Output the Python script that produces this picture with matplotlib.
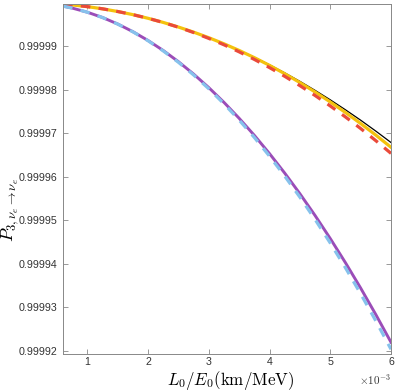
"""Survival probability P_3(nu_e -> nu_e) versus L0/E0, redrawn from the figure."""
import matplotlib
matplotlib.use("Agg")
import matplotlib.pyplot as plt
from matplotlib.ticker import MultipleLocator, FormatStrFormatter

plt.rcParams["mathtext.fontset"] = "cm"
plt.rcParams["font.family"] = ["Liberation Sans", "DejaVu Sans"]

# L0/E0 in units of 1e-3 km/MeV
l_over_e = [0.6, 0.75, 1.0, 1.25, 1.5, 1.75, 2.0, 2.25, 2.5, 2.75, 3.0, 3.25,
            3.5, 3.75, 4.0, 4.25, 4.5, 4.75, 5.0, 5.25, 5.5, 5.75, 6.0]

# upper family
p_black = [0.99999968, 0.99999950, 0.99999911, 0.99999861, 0.99999799, 0.99999727,
           0.99999643, 0.99999548, 0.99999442, 0.99999325, 0.99999197, 0.99999058,
           0.99998907, 0.99998746, 0.99998573, 0.99998389, 0.99998194, 0.99997987,
           0.99997770, 0.99997541, 0.99997302, 0.99997051, 0.99996789]
p_yellow = [0.99999968, 0.99999950, 0.99999911, 0.99999861, 0.99999799, 0.99999727,
            0.99999643, 0.99999548, 0.99999442, 0.99999325, 0.99999197, 0.99999057,
            0.99998904, 0.99998739, 0.99998561, 0.99998370, 0.99998166, 0.99997950,
            0.99997721, 0.99997479, 0.99997226, 0.99996959, 0.99996679]
p_red = [0.99999968, 0.99999950, 0.99999911, 0.99999861, 0.99999799, 0.99999727,
         0.99999643, 0.99999547, 0.99999438, 0.99999316, 0.99999181, 0.99999034,
         0.99998872, 0.99998698, 0.99998510, 0.99998310, 0.99998096, 0.99997869,
         0.99997629, 0.99997376, 0.99997111, 0.99996831, 0.99996539]

# lower family
p_purple = [0.99999922, 0.99999878, 0.99999783, 0.99999661, 0.99999512, 0.99999336,
            0.99999133, 0.99998903, 0.99998646, 0.99998361, 0.99998050, 0.99997711,
            0.99997345, 0.99996953, 0.99996533, 0.99996086, 0.99995612, 0.99995111,
            0.99994582, 0.99994027, 0.99993445, 0.99992835, 0.99992199]
p_blue = [0.99999922, 0.99999878, 0.99999783, 0.99999661, 0.99999510, 0.99999332,
          0.99999127, 0.99998893, 0.99998632, 0.99998341, 0.99998024, 0.99997679,
          0.99997305, 0.99996905, 0.99996475, 0.99996018, 0.99995534, 0.99995021,
          0.99994480, 0.99993911, 0.99993315, 0.99992691, 0.99992039]

fig = plt.figure(figsize=(3.99, 3.91), dpi=100)
ax = fig.add_axes([0.158, 0.0946, 0.822, 0.895])

ax.plot(l_over_e, p_black, color="black", lw=0.9)
ax.plot(l_over_e, p_yellow, color="#F4C20D", lw=2.3)
ax.plot(l_over_e, p_red, color="#EA4A3A", lw=2.3, dashes=(3, 2.6))
ax.plot(l_over_e, p_purple, color="#9B4DB8", lw=2.1)
ax.plot(l_over_e, p_blue, color="#86C2EC", lw=2.3, dashes=(3, 2.6))

ax.set_xlim(0.6, 6.0)
ax.set_ylim(0.9999193, 0.9999997)
ax.xaxis.set_major_locator(MultipleLocator(1))
ax.yaxis.set_major_locator(MultipleLocator(1e-5))
ax.yaxis.set_major_formatter(FormatStrFormatter("%.5f"))
ax.tick_params(direction="in", length=3.5, width=0.6, colors="#888888",
               labelcolor="#333333", labelsize=7.7, top=True, right=True)
ax.tick_params(axis="y", pad=4)
ax.tick_params(axis="x", pad=2.5)
for sp in ax.spines.values():
    sp.set_color("#888888")
    sp.set_linewidth(0.7)

ax.set_xlabel(r"$L_0/E_0(\mathrm{km/MeV})$", fontsize=12.2)
ax.xaxis.set_label_coords(0.51, -0.043)
ax.set_ylabel(r"$P_{3,\nu_e\to\nu_e}$", fontsize=13)
ax.yaxis.set_label_coords(-0.128, 0.41)
ax.text(1.0, -0.052, r"$\times\mathsf{10^{-3}}$", transform=ax.transAxes,
        ha="right", va="top", fontsize=8, color="#333333")

fig.savefig("out.png", dpi=100)
